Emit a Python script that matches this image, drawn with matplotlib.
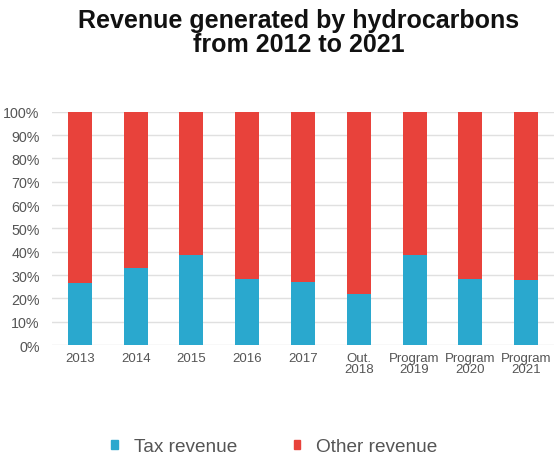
import matplotlib
matplotlib.use("Agg")
import matplotlib.pyplot as plt
import numpy as np
from matplotlib.patches import Patch

categories = ["2013", "2014", "2015", "2016", "2017", "Out.\n2018",
              "Program\n2019", "Program\n2020", "Program\n2021"]
tax_revenue = [26.4, 33.1, 38.4, 28.3, 27.1, 21.9, 38.4, 28.3, 27.7]
other_revenue = [100 - v for v in tax_revenue]
yticks = [0, 10, 20, 30, 40, 50, 60, 70, 80, 90, 100]
ytick_labels = [f"{v}%" for v in yticks]

plt.rcParams['font.family'] = ['Liberation Sans', 'DejaVu Sans']

fig = plt.figure(figsize=(5.54, 4.64), dpi=100)
ax = fig.add_axes([52/554, 1-346/464, 1-52/554, (346-112.7)/464])

blue = "#2AA8CE"
red = "#E8423B"
x = np.arange(len(categories))
ax.bar(x, tax_revenue, width=0.43, color=blue, zorder=3, label="Tax revenue")
ax.bar(x, other_revenue, bottom=tax_revenue, width=0.43, color=red, zorder=3, label="Other revenue")

ax.set_xlim(-0.5, len(categories) - 0.5)
ax.set_ylim(0, 100)
ax.set_yticks(yticks)
ax.set_yticklabels(ytick_labels)
ax.set_xticks(x)
ax.set_xticklabels(categories, linespacing=0.9)
ax.yaxis.grid(True, color="#E0E0E0", linewidth=1.0, zorder=0)
for s in ax.spines.values():
    s.set_visible(False)
ax.tick_params(axis='both', length=0, colors="#555555")
ax.tick_params(axis='y', labelsize=10.3, pad=9)
ax.tick_params(axis='x', labelsize=9.5, pad=5)

fig.text(299/554, 1-33/464, "Revenue generated by hydrocarbons\nfrom 2012 to 2021", ha="center", va="center",
         fontsize=18, fontweight="bold", color="#111111", linespacing=1.05)

handles = [Patch(color=blue), Patch(color=red)]
leg = fig.legend(handles, ["Tax revenue", "Other revenue"], loc="center", bbox_to_anchor=(274.5/554, 1-448/464),
                 ncol=2, frameon=False, fontsize=13.7, handlelength=0.32, handleheight=0.32,
                 columnspacing=3.0, handletextpad=0.85)
for t in leg.get_texts():
    t.set_color("#555555")

fig.savefig("out.png", dpi=100)
